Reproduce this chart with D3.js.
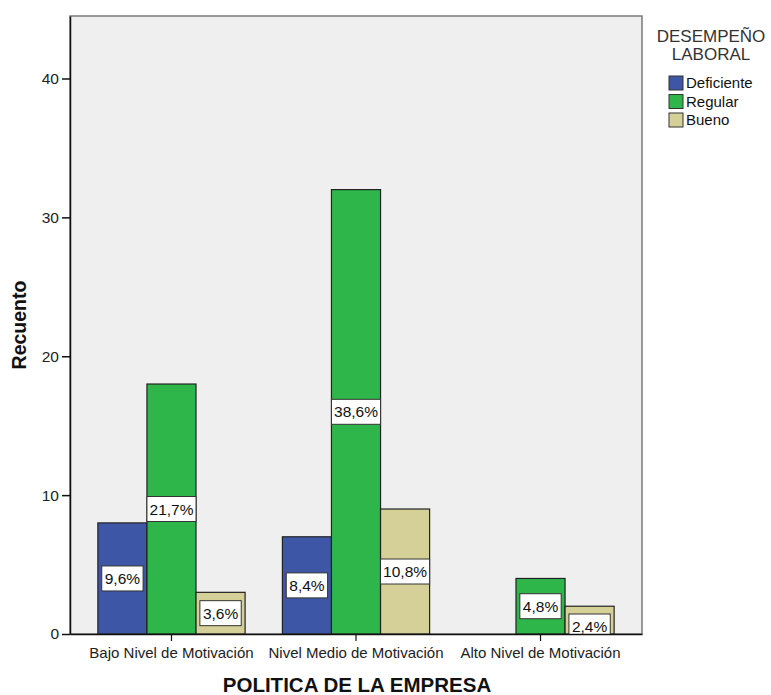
<!DOCTYPE html>
<html>
<head>
<meta charset="utf-8">
<script src="https://cdn.jsdelivr.net/npm/d3@7"></script>
<style>
  body { margin: 0; background: #fff; }
  svg { font-family: "Liberation Sans", Arial, sans-serif; }
</style>
</head>
<body>
<svg id="chart" width="771" height="695"></svg>
<script>
// data
const categories = ['Bajo Nivel de Motivación', 'Nivel Medio de Motivación', 'Alto Nivel de Motivación'];
const seriesNames = ['Deficiente', 'Regular', 'Bueno'];
const deficiente = [8, 7, 0];
const regular = [18, 32, 4];
const bueno = [3, 9, 2];
const yTicks = [0, 10, 20, 30, 40];
const colors = ['#3d56a6', '#2fb64b', '#d5cf98'];

const total = d3.sum(deficiente) + d3.sum(regular) + d3.sum(bueno);
const seriesValues = [deficiente, regular, bueno];

// build rows for drawing
const rows = categories.map((c, i) => ({
    cat: c,
    values: seriesNames.map((s, j) => ({ key: s, value: seriesValues[j][i] }))
}));

const plot = { left: 70, right: 642, top: 16, bottom: 634 };

const svg = d3.select('#chart');

// clip marks to the plot area
svg.append('defs').append('clipPath')
    .attr('id', 'plotclip')
    .append('rect')
    .attr('x', plot.left).attr('y', plot.top)
    .attr('width', plot.right - plot.left).attr('height', plot.bottom - plot.top);

const x0 = d3.scaleBand()
    .domain(categories)
    .range([plot.left, plot.right])
    .paddingInner(0)
    .paddingOuter(0.05);

const x1 = d3.scaleBand()
    .domain(seriesNames)
    .range([0, x0.bandwidth()])
    .paddingInner(0)
    .paddingOuter(0.38);

const y = d3.scaleLinear()
    .domain([0, 44.5])
    .range([plot.bottom, plot.top]);

const color = d3.scaleOrdinal().domain(seriesNames).range(colors);

// plot background + frame
svg.append('rect')
    .attr('x', plot.left).attr('y', plot.top)
    .attr('width', plot.right - plot.left).attr('height', plot.bottom - plot.top)
    .attr('fill', '#efefef')
    .attr('stroke', '#7a7a7a')
    .attr('stroke-width', 1.5);

// bars
const groups = svg.append('g')
    .attr('clip-path', 'url(#plotclip)')
    .selectAll('g')
    .data(rows)
    .enter()
    .append('g')
    .attr('transform', d => `translate(${x0(d.cat)},0)`);

groups.selectAll('rect')
    .data(d => d.values.filter(v => v.value > 0))
    .enter()
    .append('rect')
    .attr('x', d => x1(d.key))
    .attr('y', d => y(d.value))
    .attr('width', x1.bandwidth())
    .attr('height', d => y(0) - y(d.value))
    .attr('fill', d => color(d.key))
    .attr('stroke', '#222')
    .attr('stroke-width', 1.2);

// percentage labels
const labels = groups.selectAll('g.lab')
    .data(d => d.values.filter(v => v.value > 0))
    .enter()
    .append('g')
    .attr('class', 'lab')
    .attr('transform', d => {
        const cx = x1(d.key) + x1.bandwidth() / 2;
        const h = y(0) - y(d.value);
        // short bars: label sits near the baseline
        const cy = h < 30 ? y(0) - 7.5 : (y(0) + y(d.value)) / 2;
        return `translate(${cx},${cy})`;
    });

labels.each(function (d) {
    const g = d3.select(this);
    const txt = (d.value / total * 100).toFixed(1).replace('.', ',') + '%';
    const t = g.append('text')
        .attr('text-anchor', 'middle')
        .attr('dy', '0.36em')
        .attr('font-size', 15.5)
        .attr('fill', '#111')
        .text(txt);
    const w = Math.min(t.node().getComputedTextLength() + 6, x1.bandwidth());
    g.insert('rect', 'text')
        .attr('x', -w / 2).attr('y', -12.5)
        .attr('width', w).attr('height', 25)
        .attr('fill', '#fff')
        .attr('stroke', '#333')
        .attr('stroke-width', 1);
});

// y axis
const yAxis = svg.append('g')
    .attr('transform', `translate(${plot.left},0)`)
    .call(d3.axisLeft(y).tickValues(yTicks).tickSize(8).tickSizeOuter(0).tickPadding(3).tickFormat(d3.format('d')));
yAxis.select('.domain').attr('stroke', '#111').attr('stroke-width', 1.5);
yAxis.selectAll('.tick line').attr('stroke', '#111').attr('stroke-width', 1.5);
yAxis.selectAll('.tick text').attr('font-size', 15.5).attr('fill', '#222').attr('font-family', null);

// x axis
const xAxis = svg.append('g')
    .attr('transform', `translate(0,${plot.bottom})`)
    .call(d3.axisBottom(x0).tickSize(7).tickSizeOuter(0).tickPadding(6));
xAxis.select('.domain').attr('stroke', '#111').attr('stroke-width', 1.5);
xAxis.selectAll('.tick line').attr('stroke', '#111').attr('stroke-width', 1.2);
xAxis.selectAll('.tick text').attr('font-size', 15).attr('fill', '#222').attr('font-family', null);

// axis titles
svg.append('text')
    .attr('transform', `translate(26,${(plot.top + plot.bottom) / 2}) rotate(-90)`)
    .attr('text-anchor', 'middle')
    .attr('font-size', 19.5)
    .attr('font-weight', 'bold')
    .attr('fill', '#111')
    .text('Recuento');

svg.append('text')
    .attr('x', 357)
    .attr('y', 692)
    .attr('text-anchor', 'middle')
    .attr('font-size', 20.5)
    .attr('font-weight', 'bold')
    .attr('fill', '#111')
    .text('POLITICA DE LA EMPRESA');

// legend
const legend = svg.append('g');
legend.append('text')
    .attr('x', 711).attr('y', 42)
    .attr('text-anchor', 'middle')
    .attr('font-size', 17)
    .attr('fill', '#333')
    .text('DESEMPEÑO');
legend.append('text')
    .attr('x', 711).attr('y', 60)
    .attr('text-anchor', 'middle')
    .attr('font-size', 17)
    .attr('fill', '#333')
    .text('LABORAL');

const items = legend.selectAll('g.item')
    .data(seriesNames)
    .enter()
    .append('g')
    .attr('class', 'item')
    .attr('transform', (d, i) => `translate(669,${76 + i * 18.5})`);
items.append('rect')
    .attr('width', 14).attr('height', 14)
    .attr('fill', d => color(d))
    .attr('stroke', '#333');
items.append('text')
    .attr('x', 17).attr('y', 12)
    .attr('font-size', 15)
    .attr('fill', '#111')
    .text(d => d);
</script>
</body>
</html>
